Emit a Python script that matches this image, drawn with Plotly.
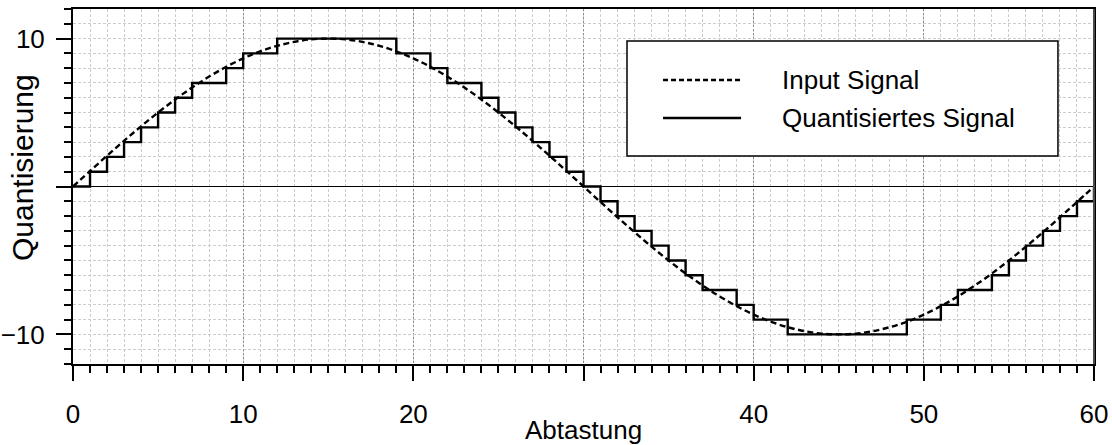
import plotly.graph_objects as go

# Sample index (Abtastung)
sample = list(range(61))

# Analog input signal at each sample
input_signal = [
    0.00, 1.05, 2.08, 3.09, 4.07, 5.00, 5.88, 6.69, 7.43, 8.09,
    8.66, 9.14, 9.51, 9.78, 9.95, 10.00, 9.95, 9.78, 9.51, 9.14,
    8.66, 8.09, 7.43, 6.69, 5.88, 5.00, 4.07, 3.09, 2.08, 1.05,
    0.00, -1.05, -2.08, -3.09, -4.07, -5.00, -5.88, -6.69, -7.43, -8.09,
    -8.66, -9.14, -9.51, -9.78, -9.95, -10.00, -9.95, -9.78, -9.51, -9.14,
    -8.66, -8.09, -7.43, -6.69, -5.88, -5.00, -4.07, -3.09, -2.08, -1.05,
    0.00,
]

# Quantized signal (integer levels)
quantized = [
    0, 1, 2, 3, 4, 5, 6, 7, 7, 8,
    9, 9, 10, 10, 10, 10, 10, 10, 10, 9,
    9, 8, 7, 7, 6, 5, 4, 3, 2, 1,
    0, -1, -2, -3, -4, -5, -6, -7, -7, -8,
    -9, -9, -10, -10, -10, -10, -10, -10, -10, -9,
    -9, -8, -7, -7, -6, -5, -4, -3, -2, -1,
    0,
]

x_tickvals = [0, 10, 20, 30, 40, 50, 60]
x_ticktext = ["0", "10", "20", "", "40", "50", "60"]
y_tickvals = [-10, 0, 10]
y_ticktext = ["\u221210", "", "10"]

series_names = ["Input Signal", "Quantisiertes Signal"]

FONT = "Liberation Sans, Arial, Helvetica, sans-serif"
MINOR_GRID = "#cccccc"
DASH_INPUT = "6px,3.5px"

fig = go.Figure()

fig.add_trace(go.Scatter(
    x=sample, y=input_signal, mode="lines",
    line=dict(color="black", width=2.4, dash=DASH_INPUT, shape="spline", smoothing=1),
    name=series_names[0], showlegend=False,
))
fig.add_trace(go.Scatter(
    x=sample, y=quantized, mode="lines",
    line=dict(color="black", width=2.4, shape="hv"),
    name=series_names[1], showlegend=False,
))

axis_common = dict(
    showline=True, linecolor="black", linewidth=2, mirror=True,
    ticks="outside", ticklen=15, tickwidth=2, tickcolor="black",
    tickfont=dict(family=FONT, size=26, color="black"),
    showgrid=True, automargin=False,
)

fig.update_xaxes(
    range=[0, 60], tickmode="array", tickvals=x_tickvals, ticktext=x_ticktext,
    gridcolor="#8c8c8c", griddash="2px,2px", gridwidth=1,
    zeroline=False, ticklabelstandoff=11,
    minor=dict(dtick=1, tick0=0, ticks="outside", ticklen=7, tickwidth=1.5,
               tickcolor="black", showgrid=True, gridcolor=MINOR_GRID,
               griddash="3px,2px", gridwidth=1),
    **axis_common,
)
fig.update_yaxes(
    range=[-12, 12], tickmode="array", tickvals=y_tickvals, ticktext=y_ticktext,
    gridcolor=MINOR_GRID, griddash="3px,2px", gridwidth=1,
    zeroline=True, zerolinecolor="black", zerolinewidth=1,
    ticklabelstandoff=6,
    minor=dict(dtick=1, tick0=0, ticks="outside", ticklen=7, tickwidth=1.5,
               tickcolor="black", showgrid=True, gridcolor=MINOR_GRID,
               griddash="3px,2px", gridwidth=1),
    **axis_common,
)

# Legend box drawn in paper coordinates
lg_x0, lg_x1, lg_y0, lg_y1 = 0.5426, 0.9647, 0.5859, 0.9099
sample_x0, sample_x1 = 0.5779, 0.6543
row_y = [0.800, 0.693]
text_x = 0.6925

shapes = [
    dict(type="rect", xref="paper", yref="paper", x0=lg_x0, x1=lg_x1, y0=lg_y0, y1=lg_y1,
         line=dict(color="black", width=1.5), fillcolor="white", layer="above"),
    dict(type="line", xref="paper", yref="paper", x0=sample_x0, x1=sample_x1,
         y0=row_y[0], y1=row_y[0], line=dict(color="black", width=2.4, dash="5px,3px"),
         layer="above"),
    dict(type="line", xref="paper", yref="paper", x0=sample_x0, x1=sample_x1,
         y0=row_y[1], y1=row_y[1], line=dict(color="black", width=2.4), layer="above"),
    # right frame edge in dark grey
    dict(type="line", xref="paper", yref="paper", x0=1, x1=1, y0=0, y1=1,
         line=dict(color="#4a4a4a", width=2), layer="above"),
]

annotations = [
    dict(xref="paper", yref="paper", x=text_x, y=row_y[i], xanchor="left", yanchor="middle",
         text=series_names[i], showarrow=False,
         font=dict(family=FONT, size=26, color="black"))
    for i in range(2)
]
annotations += [
    dict(xref="paper", yref="paper", x=0.5, y=0, yshift=-66, xanchor="center", yanchor="middle",
         text="Abtastung", showarrow=False, font=dict(family=FONT, size=26, color="black")),
    dict(xref="paper", yref="paper", x=0, xshift=-51, y=0.552, xanchor="center", yanchor="middle",
         text="Quantisierung", textangle=-90, showarrow=False,
         font=dict(family=FONT, size=30, color="black")),
]

fig.update_layout(
    width=1112, height=445,
    margin=dict(l=73, r=18, t=9, b=81),
    paper_bgcolor="white", plot_bgcolor="white",
    showlegend=False,
    shapes=shapes, annotations=annotations,
    font=dict(family=FONT, color="black"),
)

fig.write_html("out.html")
